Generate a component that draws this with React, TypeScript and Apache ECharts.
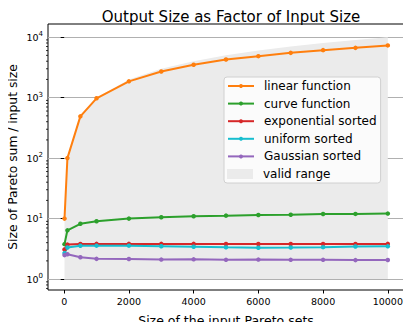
import React, { useEffect, useRef } from "react";
import * as echarts from "echarts";

const inputSizes = [10, 100, 500, 1000, 2000, 3000, 4000, 5000, 6000, 7000, 8000, 9000, 10000];
const linearFunction = [10, 100, 490, 975, 1860, 2710, 3500, 4280, 4850, 5500, 6100, 6650, 7300];
const curveFunction = [3.78, 6.4, 8.2, 9.05, 10.0, 10.5, 10.95, 11.2, 11.5, 11.6, 11.9, 11.95, 12.1];
const exponentialSorted = [3.08, 3.72, 3.8, 3.82, 3.82, 3.82, 3.82, 3.8, 3.8, 3.8, 3.8, 3.8, 3.82];
const uniformSorted = [2.69, 3.32, 3.55, 3.57, 3.57, 3.5, 3.42, 3.35, 3.3, 3.33, 3.37, 3.45, 3.48];
const gaussianSorted = [2.49, 2.58, 2.3, 2.16, 2.15, 2.1, 2.12, 2.08, 2.1, 2.08, 2.08, 2.06, 2.07];
const validLower = 1;
const xTicks = [0, 2000, 4000, 6000, 8000, 10000];
const yTicks = [1, 10, 100, 1000, 10000];
const minorMultipliers = [2, 3, 4, 5, 6, 7, 8, 9];
const minorDecades = [0.1, 1, 10, 100, 1000, 10000];

const X_MIN = -500;
const X_MAX = 10500;
const Y_MIN = 0.66;
const Y_MAX = 16500;

const seriesDefs = [
  { name: "linear function", data: linearFunction, color: "#ff7f0e" },
  { name: "curve function", data: curveFunction, color: "#2ca02c" },
  { name: "exponential sorted", data: exponentialSorted, color: "#d62728" },
  { name: "uniform sorted", data: uniformSorted, color: "#17becf" },
  { name: "Gaussian sorted", data: gaussianSorted, color: "#9467bd" },
];

export default function App() {
  const ref = useRef<HTMLDivElement>(null);
  useEffect(() => {
    if (!ref.current) return;
    const chart = echarts.init(ref.current, undefined, { renderer: "svg" });
    const font = "DejaVu Sans";
    const minorValues: number[] = [];
    minorDecades.forEach((d) =>
      minorMultipliers.forEach((m) => {
        const v = m * d;
        if (v >= Y_MIN && v <= Y_MAX) minorValues.push(v);
      })
    );
    const lineSeries = seriesDefs.map((s) => ({
      name: s.name,
      type: "line",
      data: inputSizes.map((x, i) => [x, s.data[i]]),
      symbol: "circle",
      symbolSize: 4.5,
      showSymbol: true,
      lineStyle: { color: s.color, width: 2 },
      itemStyle: { color: s.color },
      z: 5,
    }));
    const legendText = { fontFamily: font, fontSize: 12, color: "#000", padding: [0, 0, 0, 5] };
    const rowH = 17.6;
    chart.setOption({
      animation: false,
      title: {
        text: "Output Size as Factor of Input Size",
        left: 226,
        textAlign: "center",
        top: 4,
        textStyle: { fontFamily: font, fontSize: 15, fontWeight: "normal", color: "#000" },
      },
      grid: {
        left: 48,
        right: 7,
        top: 24,
        bottom: 40,
        outerBoundsMode: "none",
        containLabel: false,
        show: true,
        borderColor: "#000",
        borderWidth: 1,
        backgroundColor: "transparent",
      },
      legend: [
        {
          orient: "vertical",
          left: 224,
          top: 77,
          itemWidth: 26,
          itemHeight: 5,
          itemGap: 5.6,
          padding: [3, 4, 3 + rowH, 3],
          backgroundColor: "rgba(255,255,255,0.8)",
          borderColor: "#d0d0d0",
          borderWidth: 1,
          borderRadius: 3,
          textStyle: legendText,
          data: seriesDefs.map((s) => ({ name: s.name })),
          z: 6,
        },
        {
          orient: "vertical",
          left: 227,
          top: 77 + 3 + 5 * rowH,
          itemWidth: 26,
          itemHeight: 10,
          padding: 0,
          textStyle: legendText,
          data: [{ name: "valid range", icon: "rect", itemStyle: { color: "#ebebeb" } }],
          z: 7,
        },
      ],
      graphic: [
        {
          type: "text",
          x: 13,
          y: 157,
          rotation: Math.PI / 2,
          style: {
            text: "Size of Pareto sum / input size",
            fontFamily: font,
            fontSize: 12.3,
            fill: "#000",
            align: "center",
            verticalAlign: "middle",
          },
        },
      ],
      xAxis: {
        type: "value",
        min: X_MIN,
        max: X_MAX,
        name: "Size of the input Pareto sets",
        nameLocation: "middle",
        nameGap: 24,
        nameTextStyle: { fontFamily: font, fontSize: 12.5, color: "#000" },
        axisLine: { show: false },
        axisTick: { show: true, customValues: xTicks, length: 3.5, lineStyle: { color: "#000" } },
        axisLabel: {
          customValues: xTicks,
          fontFamily: font,
          fontSize: 9.5,
          color: "#000",
          margin: 6,
          formatter: (v: number) => String(v),
        },
        splitLine: { show: false },
      },
      yAxis: {
        type: "log",
        logBase: 10,
        min: Y_MIN,
        max: Y_MAX,
        axisLine: { show: false },
        axisTick: { show: true, customValues: yTicks, length: 3.5, lineStyle: { color: "#000" } },
        axisLabel: {
          customValues: yTicks,
          fontFamily: font,
          color: "#000",
          margin: 5,
          formatter: (v: number) => `10{sup|${Math.round(Math.log10(v))}}`,
          rich: {
            sup: { fontSize: 7, verticalAlign: "top", padding: [0, 0, 6, 0], fontFamily: font, color: "#000" },
          },
          fontSize: 9.5,
        },
        splitLine: { show: true, lineStyle: { color: "#b0b0b0", width: 1 } },
      },
      series: [
        {
          name: "valid range",
          type: "custom",
          data: inputSizes.map((x) => [x, x]),
          itemStyle: { color: "#ebebeb" },
          silent: true,
          z: 1,
          renderItem: (params: any, api: any) => {
            if (params.dataIndex !== 0) return null;
            const top = inputSizes.map((x) => api.coord([x, x]));
            const bottom = inputSizes.map((x) => api.coord([x, validLower])).reverse();
            return {
              type: "polygon",
              shape: { points: [...top, ...bottom] },
              style: { fill: "#ebebeb" },
            };
          },
        },
        {
          name: "minor ticks",
          type: "custom",
          data: minorValues.map((v) => [X_MIN, v]),
          silent: true,
          clip: false,
          z: 10,
          renderItem: (params: any, api: any) => {
            const p = api.coord([X_MIN, api.value(1)]);
            return {
              type: "line",
              shape: { x1: p[0], y1: p[1], x2: p[0] - 2, y2: p[1] },
              style: { stroke: "#000", lineWidth: 0.8 },
            };
          },
        },
        ...lineSeries,
      ],
    });
    return () => chart.dispose();
  }, []);
  return <div ref={ref} style={{ width: 411, height: 330, margin: -8 }} />;
}
